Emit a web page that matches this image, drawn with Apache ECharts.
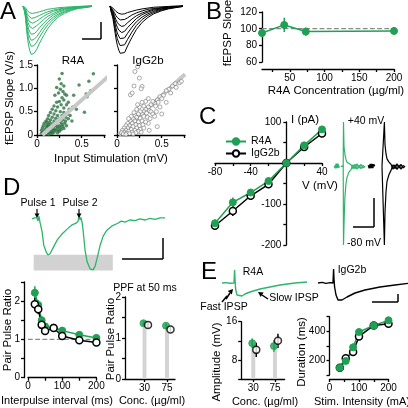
<!DOCTYPE html>
<html><head><meta charset="utf-8">
<script src="https://cdn.jsdelivr.net/npm/echarts@6/dist/echarts.min.js"></script>
<style>html,body{margin:0;padding:0;background:#fff}#wrap{position:relative;width:408px;height:408px}#c{width:408px;height:408px}
.tl{position:absolute;font:10px "Liberation Sans",Arial,sans-serif;color:#000;line-height:12px;text-align:right;width:30px;z-index:10}</style>
</head><body><div id="wrap"><div id="c"></div></div>
<script>
// ---------- DATA ----------
const tA = [0,1,2,3,4,5,6,7,8,10,12,15,18,22,26,30,35,40,45,50];
const greenTraces = [
 [0,-0.06,-0.36,-0.72,-0.96,-1.1,-1.19,-1.2,-1.16,-1.06,-0.91,-0.72,-0.55,-0.38,-0.26,-0.18,-0.11,-0.06,-0.04,-0.01],
 [0,-0.05,-0.3,-0.6,-0.8,-0.92,-0.99,-1.0,-0.97,-0.88,-0.76,-0.6,-0.46,-0.32,-0.22,-0.15,-0.09,-0.05,-0.03,-0.01],
 [0,-0.04,-0.26,-0.51,-0.68,-0.78,-0.84,-0.85,-0.82,-0.75,-0.65,-0.51,-0.39,-0.27,-0.19,-0.13,-0.08,-0.04,-0.03,0],
 [0,-0.04,-0.21,-0.42,-0.56,-0.64,-0.69,-0.7,-0.68,-0.62,-0.53,-0.42,-0.32,-0.22,-0.15,-0.1,-0.06,-0.04,-0.02,0],
 [0,-0.03,-0.17,-0.33,-0.44,-0.51,-0.54,-0.55,-0.53,-0.48,-0.42,-0.33,-0.25,-0.18,-0.12,-0.08,-0.05,-0.03,-0.02,0],
 [0,-0.02,-0.13,-0.25,-0.34,-0.39,-0.42,-0.42,-0.41,-0.37,-0.32,-0.25,-0.19,-0.13,-0.09,-0.06,-0.04,-0.02,-0.01,0],
 [0,-0.02,-0.09,-0.18,-0.24,-0.28,-0.3,-0.3,-0.29,-0.26,-0.23,-0.18,-0.14,-0.1,-0.07,-0.05,-0.03,-0.02,-0.01,0],
 [0,-0.01,-0.05,-0.11,-0.14,-0.17,-0.18,-0.18,-0.17,-0.16,-0.14,-0.11,-0.08,-0.06,-0.04,-0.03,-0.02,-0.01,0,0]
];
const blackTraces = [
 [0,-0.18,-0.3,-0.54,-0.78,-0.96,-1.08,-1.16,-1.2,-1.14,-0.98,-0.77,-0.58,-0.4,-0.28,-0.19,-0.12,-0.07,-0.04,-0.01],
 [0,-0.15,-0.25,-0.45,-0.65,-0.8,-0.9,-0.97,-1.0,-0.95,-0.82,-0.64,-0.48,-0.33,-0.23,-0.16,-0.1,-0.06,-0.03,-0.01],
 [0,-0.12,-0.2,-0.37,-0.53,-0.66,-0.74,-0.8,-0.82,-0.78,-0.67,-0.52,-0.39,-0.27,-0.19,-0.13,-0.08,-0.05,-0.02,0],
 [0,-0.1,-0.16,-0.29,-0.42,-0.52,-0.59,-0.63,-0.65,-0.62,-0.53,-0.42,-0.31,-0.21,-0.15,-0.1,-0.07,-0.04,-0.02,0],
 [0,-0.08,-0.13,-0.23,-0.33,-0.4,-0.45,-0.49,-0.5,-0.48,-0.41,-0.32,-0.24,-0.17,-0.12,-0.08,-0.05,-0.03,-0.02,0],
 [0,-0.05,-0.09,-0.16,-0.23,-0.28,-0.32,-0.34,-0.35,-0.33,-0.29,-0.22,-0.17,-0.12,-0.08,-0.06,-0.04,-0.02,-0.01,0],
 [0,-0.03,-0.05,-0.09,-0.13,-0.16,-0.18,-0.19,-0.2,-0.19,-0.16,-0.13,-0.1,-0.07,-0.05,-0.03,-0.02,-0.01,0,0]
];
const r4aScatter = [[0.28,1.32],[0.63,1.31],[0.47,1.07],[0.25,1.2],[0.27,1.1],[0.3,1.05],[0.22,1.02],[0.26,0.98],[0.29,0.93],[0.24,0.9],[0.31,0.88],[0.33,0.85],[0.2,0.85],[0.58,1.15],[0.6,0.95],[0.55,0.88],[0.56,0.82],[0.53,0.49],[0.41,0.85],[0.28,0.8],[0.3,0.75],[0.25,0.72],[0.22,0.7],[0.35,0.7],[0.33,0.65],[0.27,0.65],[0.19,0.62],[0.23,0.6],[0.3,0.58],[0.36,0.55],[0.4,0.6],[0.44,0.55],[0.17,0.55],[0.21,0.52],[0.26,0.5],[0.3,0.48],[0.34,0.45],[0.15,0.48],[0.19,0.45],[0.23,0.42],[0.28,0.42],[0.32,0.38],[0.13,0.42],[0.17,0.38],[0.21,0.36],[0.25,0.35],[0.29,0.32],[0.35,0.35],[0.12,0.35],[0.15,0.32],[0.19,0.3],[0.23,0.28],[0.27,0.26],[0.31,0.25],[0.1,0.3],[0.14,0.27],[0.17,0.24],[0.21,0.22],[0.25,0.2],[0.29,0.18],[0.08,0.25],[0.11,0.22],[0.15,0.2],[0.19,0.18],[0.23,0.15],[0.27,0.12],[0.07,0.2],[0.1,0.17],[0.13,0.15],[0.17,0.13],[0.21,0.1],[0.25,0.08],[0.06,0.15],[0.09,0.12],[0.12,0.1],[0.15,0.08],[0.19,0.06],[0.23,0.05],[0.05,0.1],[0.08,0.07],[0.11,0.05],[0.14,0.04],[0.17,0.03],[0.05,0.04],[0.07,0.02],[0.1,0.02],[0.13,0.01],[0.16,0.06],[0.2,0.12],[0.24,0.1],[0.28,0.22],[0.32,0.3],[0.14,0.12],[0.18,0.2],[0.12,0.18],[0.09,0.08],[0.06,0.06],[0.16,0.16],[0.2,0.26],[0.24,0.3],[0.11,0.28],[0.13,0.22],[0.18,0.1],[0.22,0.19],[0.26,0.16],[0.3,0.14],[0.33,0.2],[0.37,0.42],[0.39,0.3]];
const igScatter = [[0.23,1.46],[0.2,1.36],[0.25,1.22],[0.19,1.05],[0.28,1.04],[0.27,0.99],[0.15,0.86],[0.17,0.9],[0.7,1.12],[0.72,1.15],[0.65,1.1],[0.62,1.05],[0.66,1.02],[0.58,0.98],[0.55,0.95],[0.6,0.9],[0.52,0.85],[0.48,0.82],[0.5,0.78],[0.45,0.75],[0.46,0.7],[0.42,0.68],[0.4,0.72],[0.43,0.62],[0.38,0.65],[0.35,0.6],[0.36,0.52],[0.32,0.55],[0.3,0.5],[0.33,0.47],[0.28,0.45],[0.26,0.5],[0.3,0.62],[0.32,0.72],[0.28,0.7],[0.25,0.6],[0.22,0.55],[0.24,0.45],[0.2,0.42],[0.22,0.38],[0.26,0.36],[0.3,0.4],[0.34,0.38],[0.18,0.35],[0.2,0.3],[0.24,0.28],[0.28,0.3],[0.15,0.3],[0.17,0.25],[0.21,0.22],[0.25,0.2],[0.29,0.22],[0.12,0.25],[0.14,0.2],[0.18,0.18],[0.22,0.15],[0.26,0.12],[0.1,0.2],[0.12,0.15],[0.16,0.12],[0.2,0.1],[0.24,0.08],[0.08,0.15],[0.1,0.1],[0.13,0.08],[0.17,0.06],[0.21,0.05],[0.06,0.1],[0.08,0.06],[0.11,0.04],[0.14,0.03],[0.05,0.05],[0.07,0.02],[0.1,0.01],[0.18,0.02],[0.27,0.06],[0.3,0.15],[0.35,0.25],[0.38,0.5],[0.4,0.45],[0.44,0.5],[0.37,0.35],[0.16,0.4],[0.13,0.35],[0.19,0.48],[0.23,0.65],[0.35,0.78],[0.55,0.7],[0.48,0.6],[0.5,0.45],[0.45,0.18],[0.36,0.1],[0.32,0.28],[0.42,0.4]];
const regLX = [0.06,0.8], regLY = [0,1.26];
const regRX = [0.02,0.76], regRY = [0,1.3];
const bConc = [10,42,73,200];
const bSlope = [94.8,104.5,96.5,97.3];
const bErr = [4.5,8.5,5,4.5];
const bRefX = [10,200], bRefY = [100,100];
const bYLabels = [60,80,100,120];
const cV = [-80,-60,-40,-20,0,20,40];
const cR4A = [-147,-96,-72,-44,0,43,82];
const cIgG = [-153,-117,-80,-52,0,39,72];
const cErrR = [9,12,8,6,2,6,6];
const cErrI = [10,12,10,8,2,6,6];
const cYLabels = [-200,-100,100];
const cgBlobT = [3,4,5,6,7], cgBlobV = [-6,-12,-2,-10,-7];
const cgUpT = [9,11.2,11.5,12,13,14,15,17,19,21,23,25,27,29,31,33];
const cgUpV = [-8,-8,100,40,20,8,2,-2,-4,-14,-3,-15,-5,-14,-6,-10];
const cgDnT = [9,11.2,11.5,12,12.5,13,14,15,17,19,21,23,25,27,29,31,33];
const cgDnV = [-8,-8,-200,-150,-110,-80,-50,-35,-22,-16,-4,-14,-2,-13,-3,-12,-8];
const cbBlobT = [37,38,39,40,41,42], cbBlobV = [-5,-12,-3,-12,-4,-9];
const cbUpT = [50,52,52.4,53,54,55,57,59,61,63,65,67,69,71,73];
const cbUpV = [-8,-8,100,45,22,10,2,-3,-15,-4,-16,-5,-15,-6,-9];
const cbDnT = [50,52,52.4,53,54,55,57,59,61,63,65,67,69,71,73];
const cbDnV = [-8,-8,-200,-120,-70,-45,-28,-18,-4,-14,-2,-13,-3,-12,-8];
const tD = [0,3,6,7,8.3,9.5,12,14,17,19,21.4,25,30,35.7,41.7,47.6,52.4,54.8,56,57,58,59.5,60.7,63,65.5,69,72.6,75,77.4,81,84.5,89,95,102,106,110.7,116,122.6,128,134.5,140,146.4,152,158];
const vD = [-0.01,0.01,0.01,-0.05,0.04,-0.07,-0.25,-0.5,-0.63,-0.68,-0.66,-0.55,-0.4,-0.29,-0.2,-0.12,-0.09,-0.05,0.08,-0.03,0.02,-0.07,-0.22,-0.59,-0.81,-0.94,-0.96,-0.89,-0.74,-0.5,-0.33,-0.22,-0.14,-0.09,-0.05,-0.07,-0.03,-0.04,-0.01,-0.03,0.0,-0.02,0.01,0.01];
const dRectT = [2,96], dRectV = [-0.97,-0.68];
const ipi = [20,30,40,50,75,100,150,200];
const pprR = [2.22,1.9,1.5,1.34,1.31,1.23,1.12,1.04];
const pprI = [1.92,1.79,1.38,1.22,1.3,1.09,0.98,0.92];
const pprER = [0.17,0.13,0.1,0.08,0.08,0.08,0.08,0.08];
const pprEI = [0.17,0.13,0.08,0.07,0.07,0.07,0.07,0.06];
const pprRefX = [0,200], pprRefY = [1,1];
const conc = [30,75];
const ppfR = [1.36,1.30], ppfI = [1.32,1.21];
const ppfER = [0.06,0.06], ppfEI = [0.07,0.06];
const tEg = [0,4,8,12,12.6,13,13.6,15,17,20,23,28,38,48,58,73,85];
const vEg = [0,0.02,-0.01,0,0.65,0.2,-0.3,-0.6,-0.7,-0.65,-0.55,-0.45,-0.3,-0.2,-0.1,0,0.05];
const tEb = [96,100,104,108,111,111.6,112,112.6,114,116,120,125,133,143,158,173,186];
const vEb = [0,0.03,-0.02,0.02,0,0.7,0.2,-0.2,-0.6,-0.85,-0.85,-0.7,-0.5,-0.35,-0.2,-0.1,-0.02];
const ampR = [11.5,10.9], ampI = [10.1,12.0];
const ampER = [1.0,1.2], ampEI = [1.5,1.5];
const stim = [35,55,80,100,150,200];
const durR = [150,196,290,395,440,475];
const durI = [150,215,258,365,440,452];
const durER = [20,20,25,20,20,25];
const durEI = [15,25,25,25,20,20];

// ---------- STYLE ----------
const FONT = '"Liberation Sans", Arial, sans-serif';
const GREEN = '#1fa055', GREEN_T = '#2fb46b', DKGREEN = '#2d7343';

function ax(gi, min, max, ticks, labels, o) {
  o = o || {};
  return {type:'value', gridIndex:gi, min:min, max:max, offset:o.offset||0,
    axisLine:{show:true, onZero:!!o.onZero, lineStyle:{color:'#000', width:1.3}},
    axisTick:{show:true, length:o.tl||3, customValues:ticks, lineStyle:{color:'#000', width:1.3}},
    axisLabel:{show:labels.length>0, customValues:labels, fontSize:10, color:'#000', fontFamily:FONT, margin:o.margin||4,
      formatter:o.fmt, showMinLabel:true, showMaxLabel:true},
    splitLine:{show:false}};
}
function hx(gi, min, max) { return {type:'value', gridIndex:gi, min:min, max:max, show:false}; }
function pairs(xs, ys) { return xs.map((x,i)=>[x, ys[i]]); }
function trace(gi, xs, ys, color, w, extra) {
  return Object.assign({type:'line', xAxisIndex:gi, yAxisIndex:gi, data:pairs(xs,ys), symbol:'none',
    lineStyle:{color:color, width:w}, silent:true, z:2}, extra||{});
}
function err(gi, xs, ys, es, color, dx) {
  return {type:'custom', xAxisIndex:gi, yAxisIndex:gi, silent:true, z:3,
    data: xs.map((x,i)=>[x, ys[i]-es[i], ys[i]+es[i]]), encode:{x:0, y:[1,2]},
    renderItem:(p, api)=>{ const a=api.coord([api.value(0),api.value(1)]); const b=api.coord([api.value(0),api.value(2)]);
      return {type:'line', shape:{x1:a[0]+(dx||0), y1:a[1], x2:b[0]+(dx||0), y2:b[1]}, style:{stroke:color, lineWidth:1.5}}; }};
}
function stems(gi, xs, ys, base) {
  return {type:'custom', xAxisIndex:gi, yAxisIndex:gi, silent:true, z:1,
    data: xs.map((x,i)=>[x, ys[i]]), encode:{x:0, y:1},
    renderItem:(p, api)=>{ const a=api.coord([api.value(0),base]); const b=api.coord([api.value(0),api.value(1)]);
      return {type:'rect', shape:{x:a[0]-2, y:b[1], width:4, height:a[1]-b[1]}, style:{fill:'#d4d4d4'}}; }};
}
function meanLine(gi, xs, ys, filled, name, line) {
  return {type: line===false ? 'scatter' : 'line', name:name, xAxisIndex:gi, yAxisIndex:gi, data:pairs(xs,ys),
    symbol:'circle', symbolSize:7, z:5, silent:true,
    lineStyle:{color: filled?GREEN:'#000', width:1.5},
    itemStyle: filled ? {color:GREEN, borderColor:GREEN, borderWidth:1} : {color:'#fff', borderColor:'#000', borderWidth:1.5}};
}

const B_LEFT = 262, B_TOP = 12, B_H = 50, B_YMIN = 60, B_YMAX = 120;
const xAxes = [
  hx(0,0,50), hx(1,0,50),
  ax(2,0,0.76,[0,0.25,0.5,0.75],[0,0.5]),
  ax(3,0,0.76,[0,0.25,0.5,0.75],[0,0.5]),
  ax(4,10,200,[25,50,75,100,125,150,175,200],[50,100,150,200],{offset:7}),
  ax(5,-80,40,[-80,-60,-40,-20,0,20,40],[-80,-40,40],{offset:-82}),
  hx(6,0,76), hx(7,0,158),
  ax(8,0,200,[0,50,100,150,200],[0,100,200]),
  ax(9,-9,91,[30,75],[30,75]),
  hx(10,0,186),
  ax(11,5,95,[30,75],[30,75]),
  ax(12,0,200,[0,50,100,150,200],[0,100,200],{offset:4})
];
const yAxes = [
  hx(0,-1.25,0.05), hx(1,-1.25,0.05),
  ax(2,0,1.5,[0,0.5,1,1.5],[0,0.5,1,1.5],{fmt:v=>v===0?'0':v.toFixed(1)}),
  ax(3,0,1.5,[0,0.5,1,1.5],[]),
  ax(4,B_YMIN,B_YMAX,[60,80,100,120],[]),
  ax(5,-200,100,[-200,-150,-100,-50,0,50,100],[],{onZero:true}),
  hx(6,-200,100), hx(7,-1,0.25),
  ax(8,0,2.5,[0,0.5,1,1.5,2,2.5],[0,1,2],{offset:4}),
  ax(9,0,2,[0,0.5,1,1.5,2],[0,1,2]),
  hx(10,-1.1,0.9),
  ax(11,4,16,[4,8,12,16],[8,16]),
  ax(12,100,500,[100,200,300,400,500],[200,400])
];
const grids = [
  {left:23, top:4, width:69, height:53},
  {left:110, top:4, width:73, height:53},
  {left:37, top:65, width:68, height:70},
  {left:117, top:65, width:68, height:70},
  {left:B_LEFT, top:B_TOP, width:132, height:B_H},
  {left:215, top:122, width:107, height:123},
  {left:332, top:122, width:76, height:123},
  {left:32, top:205, width:133, height:67},
  {left:28, top:282, width:68.4, height:95.7},
  {left:125, top:297, width:50, height:82},
  {left:222, top:265, width:186, height:40},
  {left:241.2, top:321.7, width:43.4, height:57.3},
  {left:329.5, top:316.7, width:59, height:58.3}
];

const series = [];
greenTraces.forEach(a=>series.push(trace(0, tA, a, GREEN_T, 1)));
blackTraces.forEach(a=>series.push(trace(1, tA, a, '#000', 1)));
series.push({type:'scatter', xAxisIndex:2, yAxisIndex:2, data:r4aScatter, symbolSize:3.5, itemStyle:{color:DKGREEN}, silent:true, z:2});
series.push({type:'scatter', xAxisIndex:3, yAxisIndex:3, data:igScatter, symbolSize:4, itemStyle:{color:'#fff', borderColor:'#7a7a7a', borderWidth:0.8}, silent:true, z:2});
series.push(trace(2, regLX, regLY, '#c8c8c8', 4, {z:4, clip:false}));
series.push(trace(3, regRX, regRY, '#c8c8c8', 4, {z:1, clip:false}));
series.push(trace(4, bRefX, bRefY, '#8a8a8a', 1.2, {lineStyle:{color:'#8a8a8a', width:1.2, type:'dashed'}}));
series.push(err(4, bConc, bSlope, bErr, GREEN));
series.push(meanLine(4, bConc, bSlope, true, 'B'));
series.push(err(5, cV, cIgG, cErrI, '#000'));
series.push(meanLine(5, cV, cIgG, false, 'IgG2b'));
series.push(err(5, cV, cR4A, cErrR, GREEN));
series.push(meanLine(5, cV, cR4A, true, 'R4A'));
series.push(trace(6, cgBlobT, cgBlobV, GREEN_T, 3));
series.push(trace(6, cgUpT, cgUpV, GREEN_T, 1.2));
series.push(trace(6, cgDnT, cgDnV, GREEN_T, 1.2));
series.push(trace(6, cbBlobT, cbBlobV, '#000', 3));
series.push(trace(6, cbUpT, cbUpV, '#000', 1.2));
series.push(trace(6, cbDnT, cbDnV, '#000', 1.2));
series.push(trace(7, tD, vD, GREEN_T, 1.3, {markArea:{silent:true, itemStyle:{color:'#d2d2d2'},
  data:[[{xAxis:dRectT[0], yAxis:dRectV[0]},{xAxis:dRectT[1], yAxis:dRectV[1]}]]}}));
series.push(trace(8, pprRefX, pprRefY, '#8a8a8a', 1.2, {lineStyle:{color:'#8a8a8a', width:1.2, type:'dashed'}}));
series.push(err(8, ipi, pprR, pprER, GREEN));
series.push(meanLine(8, ipi, pprR, true, 'D1'));
series.push(err(8, ipi, pprI, pprEI, '#000'));
series.push(meanLine(8, ipi, pprI, false, 'D2'));
series.push(stems(9, conc, ppfR, 0));
series.push(err(9, conc, ppfR, ppfER, GREEN, -1));
series.push(Object.assign(meanLine(9, conc, ppfR, true, 'D3', false), {symbolOffset:[-1,0]}));
series.push(err(9, conc, ppfI, ppfEI, '#000', 3.5));
series.push(Object.assign(meanLine(9, conc, ppfI, false, 'D4', false), {symbolOffset:[3.5,0]}));
series.push(trace(10, tEg, vEg, GREEN_T, 1.4));
series.push(trace(10, tEb, vEb, '#000', 1.4));
series.push(stems(11, conc, ampR, 4));
series.push(err(11, conc, ampR, ampER, GREEN, -1));
series.push(Object.assign(meanLine(11, conc, ampR, true, 'E1', false), {symbolOffset:[-1,0]}));
series.push(err(11, conc, ampI, ampEI, '#000', 3));
series.push(Object.assign(meanLine(11, conc, ampI, false, 'E2', false), {symbolOffset:[3,0]}));
series.push(err(12, stim, durI, durEI, '#000'));
series.push(meanLine(12, stim, durI, false, 'E3'));
series.push(err(12, stim, durR, durER, GREEN));
series.push(meanLine(12, stim, durR, true, 'E4'));

// ---------- ANNOTATIONS ----------
function T(text, x, y, size, o) {
  o = o || {};
  return {type:'text', x:x, y:y, rotation:o.rot||0, z:100,
    style:{text:text, fill:'#000', fontSize:size, fontFamily:FONT,
      align:o.align||'center', verticalAlign:o.va||'middle', textAlign:o.align||'center', textVerticalAlign:o.va||'middle'}};
}
function L(x1,y1,x2,y2,w) { return {type:'line', z:100, shape:{x1:x1,y1:y1,x2:x2,y2:y2}, style:{stroke:'#000', lineWidth:w||1.5}}; }
function head(tx, ty, dx, dy, s) {
  const n = Math.hypot(dx,dy), ux = dx/n, uy = dy/n, px = -uy, py = ux;
  const bx = tx-ux*s, by = ty-uy*s;
  return {type:'polygon', z:100, shape:{points:[[tx,ty],[bx+px*s*0.55,by+py*s*0.55],[bx-px*s*0.55,by-py*s*0.55]]}, style:{fill:'#000'}};
}
const R = Math.PI/2;
const graphics = [
  T('A', 0, 0, 24, {align:'left', va:'top'}),
  T('B', 206, 0, 24, {align:'left', va:'top'}),
  T('C', 199, 105, 24, {align:'left', va:'top'}),
  T('D', 3, 176, 24, {align:'left', va:'top'}),
  T('E', 201, 260, 24, {align:'left', va:'top'}),
  T('R4A', 73, 61, 11.5), T('IgG2b', 148, 61, 11.5),
  T('fEPSP Slope (V/s)', 10, 98, 11.5, {rot:R}),
  T('Input Stimulation (mV)', 111, 159, 11.5),
  T('fEPSP Slope', 228, 33, 11.5, {rot:R}),
  T('R4A Concentration (\u00b5g/ml)', 336, 91, 11.5),
  T('I (pA)', 291, 120, 11.5, {align:'left'}),
  T('V (mV)', 320, 186, 11.5),
  T('+40 mV', 366, 121, 10.5), T('-80 mV', 364, 243, 10.5),
  T('Pulse 1', 38, 203, 10.5), T('Pulse 2', 80, 203, 10.5),
  L(37,209,37,214,1.2), head(37,218,0,1,4.5),
  L(79,209,79,214,1.2), head(79,218,0,1,4.5),
  T('Pair Pulse Ratio', 8, 330, 11.5, {rot:R}),
  T('Interpulse interval (ms)', 57, 401, 11),
  T('PPF at 50 ms', 145, 288, 10.5),
  T('Pair Pulse Ratio', 111, 339, 11.5, {rot:R}),
  T('Conc. (\u00b5g/ml)', 152, 401, 11),
  T('R4A', 253, 272, 10.5), T('IgG2b', 352, 270, 10.5),
  T('Fast IPSP', 224, 307, 10.5), T('Slow IPSP', 294, 298, 10.5),
  L(222,302,227,296,1.5), L(227,296,226,299,1.5), L(226,299,230,293,1.5), head(233,289,1,-1.2,5),
  L(268,299,262,295,1.5), head(258,292,-1.2,-0.8,5),
  T('Amplitude (mV)', 217, 362, 11.5, {rot:R}),
  T('Conc. (\u00b5g/ml)', 265, 402, 11),
  T('Duration (ms)', 302, 352, 11.5, {rot:R}),
  T('Stim. Intensity (mA)', 362, 402, 11),
  L(101,22,101,39), L(82,39,101,39),
  L(374,198,374,227), L(353,227,374,227),
  L(163,238,163,259), L(122,259,163,259),
  L(398,294,398,302), L(372,302,398,302)
];

const chart = echarts.init(document.getElementById('c'), null, {renderer:'canvas'});
chart.setOption({
  animation:false,
  backgroundColor:'#fff',
  textStyle:{fontFamily:FONT},
  grid:grids, xAxis:xAxes, yAxis:yAxes, series:series,
  legend:{data:['R4A','IgG2b'], left:220, top:131, orient:'vertical', itemWidth:20, itemHeight:8, itemGap:1,
    textStyle:{fontSize:10.5, color:'#000', fontFamily:FONT}, selectedMode:false},
  graphic:{elements:graphics}
});
// C y tick labels placed through the axis' own scale
const cTickTexts = [];
const cAxisX = chart.convertToPixel({xAxisIndex:5}, 0);
cYLabels.forEach(v => {
  const y = chart.convertToPixel({yAxisIndex:5}, v);
  cTickTexts.push(T(String(v), cAxisX - 5, y, 10, {align:'right'}));
});
chart.setOption({graphic:{elements:graphics.concat(cTickTexts)}});
// B y tick labels as an HTML text overlay positioned from the axis scale
const wrap = document.getElementById('wrap');
bYLabels.forEach(v => {
  let y = chart.convertToPixel({yAxisIndex:4}, v);
  if (typeof y !== 'number' || !isFinite(y) || y < B_TOP - 1 || y > B_TOP + B_H + 1) {
    y = B_TOP + (B_YMAX - v) / (B_YMAX - B_YMIN) * B_H;
  }
  const d = document.createElement('div');
  d.className = 'tl';
  d.textContent = String(v);
  d.style.left = (B_LEFT - 5 - 30) + 'px';
  d.style.top = (y - 6) + 'px';
  wrap.appendChild(d);
});
</script></body></html>
